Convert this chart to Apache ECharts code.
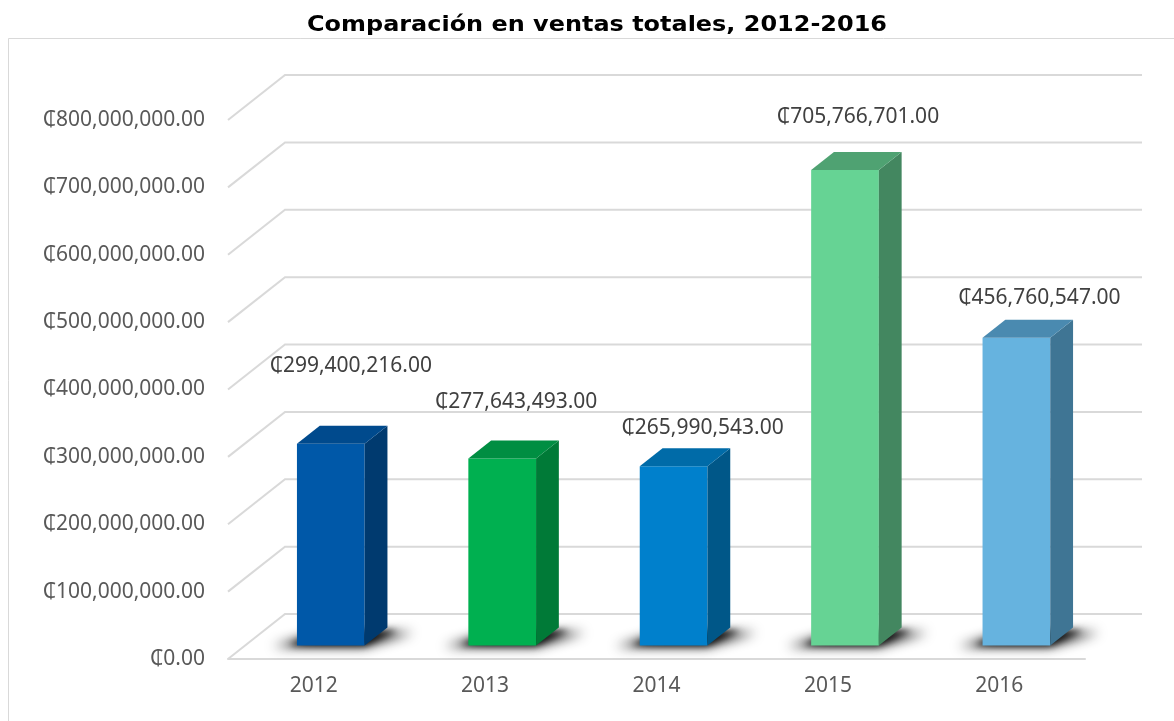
<!DOCTYPE html>
<html>
<head>
<meta charset="utf-8">
<script src="https://cdn.jsdelivr.net/npm/echarts@6/dist/echarts.min.js"></script>
<style>
  html, body { margin: 0; padding: 0; background: #ffffff; }
  #chart { width: 1174px; height: 721px; }
</style>
</head>
<body>
<div id="chart"></div>
<script>
// Annual totals
const years = ['2012', '2013', '2014', '2015', '2016'];
const totalSales = [299400216, 277643493, 265990543, 705766701, 456760547];
const axisTicks = [0, 100000000, 200000000, 300000000, 400000000, 500000000, 600000000, 700000000, 800000000];

// Per-bar face colours (front, side, top)
const frontColors = ['#0058A8', '#00B050', '#0080CC', '#66D394', '#66B3DF'];
const sideColors  = ['#003A6F', '#007A37', '#005788', '#438760', '#3F7594'];
const topColors   = ['#004A8D', '#008E42', '#006BA8', '#4FA272', '#4A8AB0'];

// Value-label nudges relative to the top of each bar's front face (px)
const labelShift = [[20, -78], [14, -56], [29, -38], [13, -53], [23, -40]];

// Pseudo-3D geometry: floor depth vector and bar placement in that depth
const DEPTH_X = 57, DEPTH_Y = -45;
const BAR_FRONT = 0.3, BAR_BACK = 0.7;
const BAR_WIDTH = 0.395;
const GRID_COLOR = '#d9d9d9';
const FONT = '"Noto Sans", "DejaVu Sans", sans-serif';
// The floor shadow is cast from a copy drawn off to the left, so only its blur shows
const SHADOW_SHIFT = 3000;

function money(v) {
  const parts = Number(v).toFixed(2).split('.');
  return '\u20B5' + parts[0].replace(/\B(?=(\d{3})+(?!\d))/g, ',') + '.' + parts[1];
}

// Left wall + back wall gridline for one tick value
function renderWall(params, api) {
  const cs = params.coordSys;
  const y = api.coord([0, api.value(1)])[1];
  const x0 = cs.x, x1 = cs.x + cs.width;
  return {
    type: 'polyline',
    shape: { points: [[x0, y], [x0 + DEPTH_X, y + DEPTH_Y], [x1 + DEPTH_X, y + DEPTH_Y]] },
    style: { stroke: GRID_COLOR, lineWidth: 2, fill: null },
    silent: true
  };
}

// Blurred floor shadow: only the offset shadow of the shape lands on screen
function floorShadow(points, blur, alpha) {
  const s = SHADOW_SHIFT;
  return {
    type: 'polygon',
    silent: true,
    shape: { points: points.map(p => [p[0] - s, p[1]]) },
    style: {
      fill: '#000000',
      shadowBlur: blur,
      shadowOffsetX: s,
      shadowOffsetY: 0,
      shadowColor: 'rgba(0,0,0,' + alpha + ')'
    }
  };
}

// One extruded bar with its floor shadow and value label
function renderBar(params, api) {
  const i = api.value(0), v = api.value(1);
  const base = api.coord([i, 0]);
  const top = api.coord([i, v]);
  const band = api.size([1, 0])[0];
  const w = band * BAR_WIDTH;
  const fx = base[0] + BAR_FRONT * DEPTH_X - w / 2;
  const fb = base[1] + BAR_FRONT * DEPTH_Y;
  const ft = top[1] + BAR_FRONT * DEPTH_Y;
  const ox = (BAR_BACK - BAR_FRONT) * DEPTH_X;
  const oy = (BAR_BACK - BAR_FRONT) * DEPTH_Y;
  const shift = labelShift[i];
  return {
    type: 'group',
    children: [
      floorShadow([
        [fx - 24, fb + 1], [fx + w, fb + 1],
        [fx + w + ox + 26, fb + oy + 5], [fx + ox, fb + oy + 5]
      ], 12, 0.9),
      floorShadow([
        [fx - 8, fb], [fx + w, fb],
        [fx + w + ox + 10, fb + oy + 3], [fx + ox, fb + oy + 3]
      ], 6, 0.8),
      {
        type: 'rect',
        shape: { x: fx, y: ft, width: w, height: fb - ft },
        style: { fill: frontColors[i] }
      },
      {
        type: 'polygon',
        shape: { points: [[fx + w, fb], [fx + w + ox, fb + oy], [fx + w + ox, ft + oy], [fx + w, ft]] },
        style: { fill: sideColors[i] }
      },
      {
        type: 'polygon',
        shape: { points: [[fx, ft], [fx + w, ft], [fx + w + ox, ft + oy], [fx + ox, ft + oy]] },
        style: { fill: topColors[i] }
      },
      {
        type: 'text',
        x: fx + w / 2 + shift[0],
        y: ft + shift[1],
        style: {
          text: money(v),
          fill: '#404040',
          font: '21px ' + FONT,
          align: 'center',
          verticalAlign: 'middle',
          textAlign: 'center',
          textVerticalAlign: 'middle'
        }
      }
    ]
  };
}

const chart = echarts.init(document.getElementById('chart'), null, { renderer: 'canvas' });
chart.setOption({
  animation: false,
  backgroundColor: '#ffffff',
  graphic: [
    {
      type: 'rect',
      z: 0,
      silent: true,
      shape: { x: 8.5, y: 38.5, width: 1300, height: 800 },
      style: { fill: null, stroke: GRID_COLOR, lineWidth: 1 }
    },
    {
      type: 'text',
      z: 10,
      x: 597,
      y: 26,
      scaleX: 1.14,
      style: {
        text: 'Comparación en ventas totales, 2012-2016',
        font: 'bold 21px "DejaVu Sans", Verdana, sans-serif',
        fill: '#000000',
        align: 'center',
        verticalAlign: 'middle'
      }
    }
  ],
  grid: { left: 228, right: 89, top: 120, bottom: 62 },
  xAxis: {
    type: 'category',
    data: years,
    axisLine: { show: true, lineStyle: { color: GRID_COLOR, width: 2 } },
    axisTick: { show: false },
    axisLabel: { color: '#595959', fontSize: 21, fontFamily: FONT, margin: 17 },
    splitLine: { show: false }
  },
  yAxis: {
    type: 'value',
    min: 0,
    max: 800000000,
    interval: 100000000,
    axisLine: { show: false },
    axisTick: { show: false },
    splitLine: { show: false },
    axisLabel: { color: '#595959', fontSize: 21, fontFamily: FONT, margin: 23, formatter: money }
  },
  series: [
    {
      type: 'custom',
      name: 'walls',
      z: 1,
      clip: false,
      silent: true,
      renderItem: renderWall,
      encode: { x: 0, y: 1 },
      data: axisTicks.map(t => [0, t])
    },
    {
      type: 'custom',
      name: 'Ventas totales',
      z: 3,
      clip: false,
      renderItem: renderBar,
      encode: { x: 0, y: 1 },
      data: totalSales.map((v, i) => [i, v])
    }
  ]
});
</script>
</body>
</html>
